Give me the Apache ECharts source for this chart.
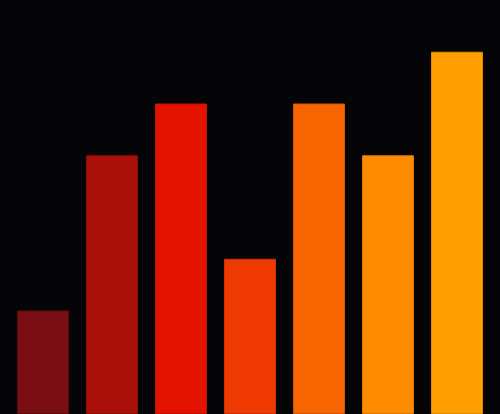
<!DOCTYPE html>
<html><head><meta charset="utf-8">
<script src="https://cdn.jsdelivr.net/npm/echarts@6/dist/echarts.min.js"></script>
<style>html,body{margin:0;padding:0;background:#050407;}#c{width:500px;height:414px;}</style>
</head><body><div id="c"></div>
<script>
const categories = ['A','B','C','D','E','F','G'];
const values = [2, 5, 6, 3, 6, 5, 7];
const colors = ['#7a0f13','#ab0f09','#e31300','#ee3a02','#f86500','#ff8c00','#ffa000'];
const borders = ['#5e0a0c','#8e0c06','#c21000','#cf3000','#d85500','#e07a00','#e08c00'];
const chart = echarts.init(document.getElementById('c'));
chart.setOption({
  backgroundColor: '#050407',
  animation: false,
  grid: {left: 8.5, right: 8.5, top: 0, bottom: 0},
  xAxis: {type: 'category', data: categories, show: false},
  yAxis: {type: 'value', min: 0, max: 8, show: false},
  series: [{
    type: 'bar',
    barWidth: 52,
    data: values.map((v, i) => ({value: v, itemStyle: {color: colors[i], borderColor: borders[i], borderWidth: 1}}))
  }]
});
</script></body></html>
